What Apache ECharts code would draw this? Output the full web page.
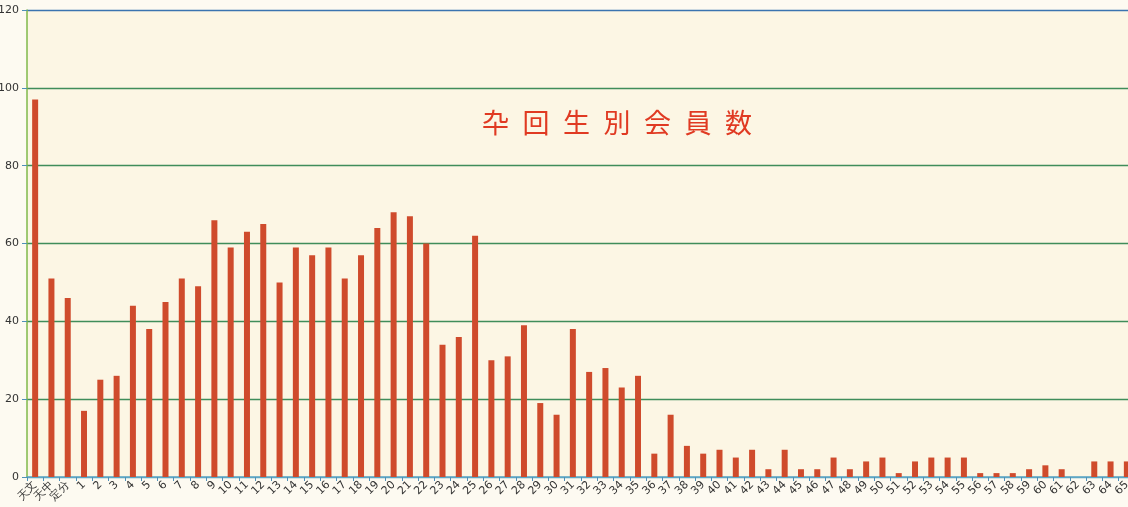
<!DOCTYPE html>
<html>
<head>
<meta charset="utf-8">
<script src="https://cdn.jsdelivr.net/npm/echarts@6/dist/echarts.min.js"></script>
<style>
html,body{margin:0;padding:0;background:#fdfaf1;}
#c{width:1128px;height:507px;}
</style>
</head>
<body>
<div id="c"></div>
<script>
const titleText = '卆回生別会員数';
const categories = ['天文','天中','定分','1','2','3','4','5','6','7','8','9','10','11','12','13','14','15','16','17','18','19','20','21','22','23','24','25','26','27','28','29','30','31','32','33','34','35','36','37','38','39','40','41','42','43','44','45','46','47','48','49','50','51','52','53','54','55','56','57','58','59','60','61','62','63','64','65'];
const members = [97,51,46,17,25,26,44,38,45,51,49,66,59,63,65,50,59,57,59,51,57,64,68,67,60,34,36,62,30,31,39,19,16,38,27,28,23,26,6,16,8,6,7,5,7,2,7,2,2,5,2,4,5,1,4,5,5,5,1,1,1,2,3,2,0,4,4,4];
const yMin = 0, yMax = 120, yStep = 20;

const chart = echarts.init(document.getElementById('c'), null, {renderer:'canvas'});
chart.setOption({
  backgroundColor: '#fdfaf1',
  animation: false,
  title: {
    text: titleText.split('').join('\u2002'),
    left: 477, top: 104,
    textStyle: {color:'#e03a22', fontSize: 27, fontWeight: 'normal', fontFamily: 'Noto Sans CJK JP'}
  },
  grid: {left: 27, right: -7, top: 10, bottom: 30, show: true, backgroundColor: '#fcf6e4', borderWidth: 0, containLabel: false, outerBoundsMode: 'none'},
  xAxis: {
    type: 'category',
    data: categories,
    axisLine: {lineStyle: {color: '#5ea7c4', width: 1.5}},
    axisTick: {show: true, alignWithLabel: false, length: 4, lineStyle: {color: '#4f90b8'}},
    axisLabel: {interval: 0, rotate: 45, fontSize: 11, color: '#333', margin: 6, fontFamily: 'DejaVu Sans'}
  },
  yAxis: {
    type: 'value',
    min: yMin, max: yMax, interval: yStep,
    axisLine: {show: true, lineStyle: {color: '#7fb84a', width: 1.5}},
    axisTick: {show: true, length: 5, lineStyle: {color: '#4f90b8'}},
    axisLabel: {fontSize: 11, color: '#333', margin: 8, fontFamily: 'DejaVu Sans'},
    splitLine: {show: true, lineStyle: {color: ['#5ea7c4','#3f8d5a','#3f8d5a','#3f8d5a','#3f8d5a','#3f8d5a','#3a74b0'], width: 1.3}}
  },
  series: [{
    type: 'bar',
    data: members,
    barWidth: 6,
    itemStyle: {color: '#cf4b2c'}
  }]
});
</script>
</body>
</html>
